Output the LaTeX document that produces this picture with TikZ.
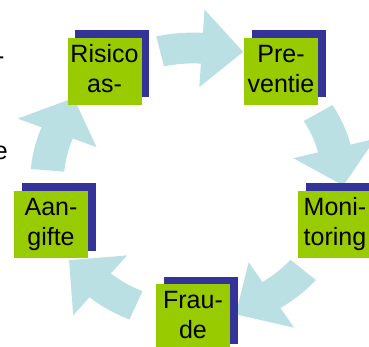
\documentclass[tikz,border=0pt]{standalone}
\usepackage{fontspec}
\setmainfont{Liberation Sans}
\usetikzlibrary{shadows}
\definecolor{arrowblue}{RGB}{187,224,227}
\definecolor{boxgreen}{RGB}{153,204,0}
\definecolor{boxblue}{RGB}{51,51,153}
\tikzset{
  stagebox/.style={rectangle, fill=boxgreen, inner sep=0pt, minimum width=74pt, minimum height=67pt,
    align=center, font=\fontsize{25}{29.5}\selectfont,
    drop shadow={shadow xshift=7.5pt, shadow yshift=7.5pt, fill=boxblue, opacity=1}},
  cyclearrow/.style={fill=arrowblue},
  fragment/.style={inner sep=0pt, anchor=base east, font=\fontsize{25}{29.5}\selectfont}
}
\begin{document}
\begin{tikzpicture}[x=1pt,y=-1pt]
\useasboundingbox (0,0) rectangle (369,347);
\clip (0,0) rectangle (369,347);
% curved block arrows (clockwise)
\foreach \m in {270,342,54,126,198}{
  \pgfmathsetmacro\ta{\m-13}
  \pgfmathsetmacro\ba{\m+3.5}
  \pgfmathsetmacro\pa{\m+19.5}
  \fill[cyclearrow] plot[domain=\ta:\ba, samples=20] ({193+146*0.885*cos(\x)},{182+134*0.885*sin(\x)})
    -- ({193+146*0.71*cos(\ba)},{182+134*0.71*sin(\ba)})
    -- ({193+146*1.03*cos(\pa)},{182+134*1.03*sin(\pa)})
    -- ({193+146*1.29*cos(\ba)},{182+134*1.29*sin(\ba)})
    -- plot[domain=\ba:\ta, samples=20] ({193+146*1.115*cos(\x)},{182+134*1.115*sin(\x)}) -- cycle;
}
% clipped text fragments at the left edge
\node[fragment] (fragA) at (4.6,65) {-};
\node[fragment] (fragB) at (8,160) {e};
% stage boxes
\node[stagebox] (risico) at (104.5,71.5) {\strut Risico\\as-\strut};
\node[stagebox] (preventie) at (281,71.5) {\strut Pre-\\ventie\strut};
\node[stagebox] (monitoring) at (335,224.5) {\strut Moni-\\toring\strut};
\node[stagebox] (fraude) at (193,317.5) {\strut Frau-\\de\strut};
\node[stagebox] (aangifte) at (51,224.5) {\strut Aan-\\gifte\strut};
\end{tikzpicture}
\end{document}
